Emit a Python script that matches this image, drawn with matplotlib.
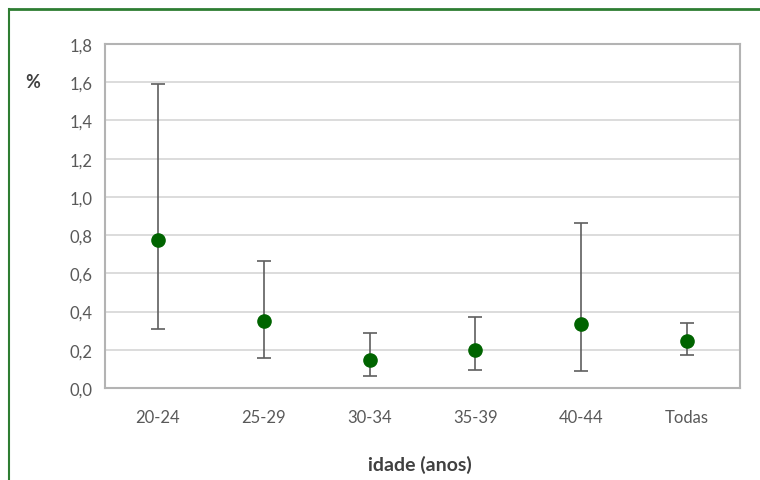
import numpy as np
import matplotlib
matplotlib.use("Agg")
import matplotlib.pyplot as plt
from matplotlib.lines import Line2D

plt.rcParams['font.family'] = ['Lato', 'DejaVu Sans']

# data
categories = ['20-24', '25-29', '30-34', '35-39', '40-44', 'Todas']
values = [0.775, 0.35, 0.148, 0.20, 0.335, 0.247]
lower = [0.31, 0.157, 0.063, 0.093, 0.087, 0.171]
upper = [1.59, 0.665, 0.29, 0.37, 0.862, 0.34]
yticks = [0.0, 0.2, 0.4, 0.6, 0.8, 1.0, 1.2, 1.4, 1.6, 1.8]

fig = plt.figure(figsize=(7.6, 4.81), dpi=100)
ax = fig.add_axes([105/760, 1-389/481, 635/760, 344/481])

x = np.arange(len(categories))
vals = np.array(values)
err = [vals - np.array(lower), np.array(upper) - vals]

ax.errorbar(x, vals, yerr=err, fmt='none', ecolor='#5f5f5f', elinewidth=1.2,
            capsize=5, capthick=1.2, zorder=3)
ax.plot(x, vals, 'o', color='#006400', markersize=9.5, zorder=4)

ax.set_xlim(-0.5, len(categories) - 0.5)
ax.set_ylim(0, 1.8)
ax.set_yticks(yticks)
ax.set_yticklabels([('%.1f' % t).replace('.', ',') for t in yticks])
ax.set_xticks(x)
ax.set_xticklabels(categories)
ax.tick_params(length=0, labelsize=12, colors='#595959', pad=9)
ax.tick_params(axis='x', pad=15)
ax.yaxis.grid(True, color='#d9d9d9', linewidth=1.3)
ax.set_axisbelow(True)
for s in ax.spines.values():
    s.set_color('#b3b3b3')
    s.set_linewidth(1.5)

fig.text(33/760, 1-82/481, '%', fontsize=13, fontweight='bold', color='#404040',
         ha='center', va='center')
fig.text(420/760, 1-465/481, 'idade (anos)', fontsize=14, fontweight='bold',
         color='#404040', ha='center', va='center')

# green frame (top and left visible)
fig.add_artist(Line2D([9/760, 1], [1-10/481, 1-10/481], color='#2e7d32', linewidth=2,
                      transform=fig.transFigure))
fig.add_artist(Line2D([9/760, 9/760], [0, 1-10/481], color='#2e7d32', linewidth=1.5,
                      transform=fig.transFigure))

fig.savefig('out.png', dpi=100)
